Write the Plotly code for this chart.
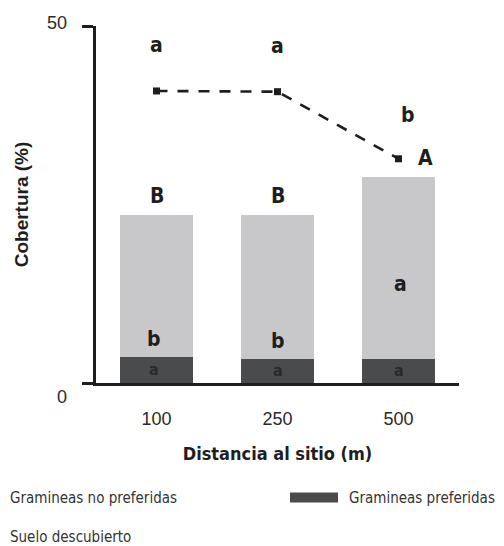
import plotly.graph_objects as go

# ---- data ----
categories = ["100", "250", "500"]
preferidas = [3.7, 3.4, 3.4]            # Gramineas preferidas (dark)
no_preferidas = [19.8, 20.1, 25.4]      # Gramineas no preferidas (light, stacked)
suelo = [40.9, 40.8, 31.4]              # Suelo descubierto (dashed line)

letters_suelo = ["a", "a", "b"]
letters_total = ["B", "B", "A"]
letters_nopref = ["b", "b", "a"]
letters_pref = ["a", "a", "a"]

y_ticks = [0, 50]

DARK = "#4a4b4d"
LIGHT = "#c8c8ca"
INK = "#1e1e1e"
NARROW = "DejaVu Sans Condensed"
TICKFONT = dict(family="Liberation Sans", size=18, color="#2a2a2a")

fig = go.Figure()
fig.add_trace(go.Bar(x=categories, y=preferidas, name="Gramineas preferidas",
                     marker=dict(color=DARK, line=dict(width=0)), width=0.6))
fig.add_trace(go.Bar(x=categories, y=no_preferidas, name="Gramineas no preferidas",
                     marker=dict(color=LIGHT, line=dict(width=0)), width=0.6))
fig.add_trace(go.Scatter(x=categories, y=suelo, name="Suelo descubierto", mode="lines+markers",
                         line=dict(color=INK, width=2.6, dash="11px,10px"),
                         marker=dict(symbol="square", size=7, color=INK)))

totals = [p + n for p, n in zip(preferidas, no_preferidas)]
ann = []
bold = dict(family=NARROW, size=21, color=INK, weight="bold")
for i, c in enumerate(categories):
    # letters above the line points
    ann.append(dict(x=i, y=suelo[i], text=letters_suelo[i], showarrow=False, font=bold,
                    xshift=9 if i == 2 else 0, yshift=44 if i == 2 else 46))
    # letters above bar totals
    ann.append(dict(x=i, y=totals[i], text=letters_total[i], showarrow=False, font=bold,
                    xshift=27 if i == 2 else 0, yshift=19))
    # letters for non-preferred grasses
    ann.append(dict(x=i, y=preferidas[i], text=letters_nopref[i], showarrow=False, font=bold,
                    xshift=-3 if i == 0 else (0 if i == 1 else 2), yshift=75 if i == 2 else 18))
    # letters in dark bars
    ann.append(dict(x=i, y=preferidas[i] / 2, text=letters_pref[i], showarrow=False,
                    xshift=-3 if i == 0 else 0,
                    font=dict(family=NARROW, size=16, color="#2a2a2a", weight="bold")))

# y tick labels
for v, ys in zip(y_ticks, [-14, 3]):
    ann.append(dict(x=0, xref="paper", xanchor="right", xshift=-27, y=v, yref="y", yshift=ys,
                    text=str(v), showarrow=False, font=TICKFONT))

# legend (manual)
def px_x(px):
    return (px - 96) / 363.0

def px_y(py):
    return (383 - py) / 357.0

legfont = dict(family=NARROW, size=15, color="#333")
ann.append(dict(x=px_x(8), y=px_y(498), xref="paper", yref="paper", xanchor="left",
                yanchor="middle", text="Gramineas no preferidas", showarrow=False, font=legfont))
ann.append(dict(x=px_x(347), y=px_y(498), xref="paper", yref="paper", xanchor="left",
                yanchor="middle", text="Gramineas preferidas", showarrow=False, font=legfont))
ann.append(dict(x=px_x(8), y=px_y(537), xref="paper", yref="paper", xanchor="left",
                yanchor="middle", text="Suelo descubierto", showarrow=False, font=legfont))

shapes = [dict(type="rect", xref="paper", yref="paper", x0=px_x(290), x1=px_x(338),
               y0=px_y(502.5), y1=px_y(492.5), fillcolor=DARK, line=dict(width=0))]

fig.update_layout(
    width=504, height=546,
    margin=dict(l=88, r=53, t=18, b=171),
    paper_bgcolor="white", plot_bgcolor="white",
    barmode="stack", bargap=0.4,
    showlegend=False,
    annotations=ann, shapes=shapes,
    xaxis=dict(type="category", range=[-0.5, 2.5], showline=True, linecolor=INK, linewidth=2.5,
               automargin=False,
               ticks="outside", ticklen=18, tickcolor="rgba(0,0,0,0)",
               tickfont=TICKFONT,
               showgrid=False, zeroline=False,
               title=dict(text="Distancia al sitio (m)", standoff=20,
                          font=dict(family=NARROW, size=18, color=INK, weight="bold"))),
    yaxis=dict(range=[0, 50], tickvals=y_ticks, showticklabels=False, ticks="outside",
               automargin=False,
               ticklen=11, tickwidth=2.5, tickcolor=INK, showline=True, linecolor=INK,
               linewidth=2.5, showgrid=False, zeroline=False,
               title=dict(text="Cobertura (%)", standoff=49,
                          font=dict(family="Liberation Sans", size=19, color=INK, weight="bold"))),
)

fig.write_html("out.html")
